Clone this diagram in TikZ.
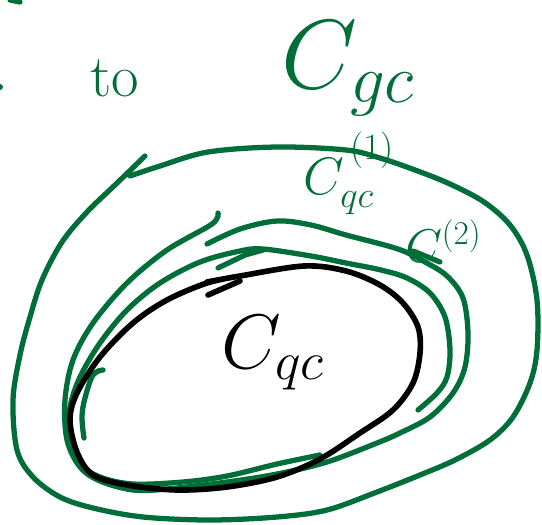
\RequirePackage{fix-cm}
\documentclass[tikz,border=0pt]{standalone}
\definecolor{ink}{RGB}{0,110,56}
\begin{document}
\begin{tikzpicture}[x=0.02cm,y=-0.02cm,
  gline/.style={draw=ink,line width=3pt,line cap=round,line join=round},
  bline/.style={draw=black,line width=3.2pt,line cap=round,line join=round},
  glabel/.style={text=ink,inner sep=0pt,anchor=base west},
  blabel/.style={text=black,inner sep=0pt,anchor=base west}]
\useasboundingbox (0,0) rectangle (542,525);
% stray marks at the edge
\draw[gline] (10,0) -- (20,2);
\fill[ink] (0,87) circle (3);
% outer loop
\draw[gline] plot[smooth,tension=0.55] coordinates {
 (145,156) (115,185) (87,212) (62,242) (42,280) (30,317) (20,355) (13,400)
 (17,450) (33,477) (60,497) (93,508) (143,517) (210,520) (277,517) (327,510)
 (377,492) (420,475) (455,460) (490,440) (513,417) (530,383) (537,350)
 (537,300) (527,255) (510,225) (484,202) (450,184) (415,170) (380,158)
 (346,150) (277,147) (208,152) (160,166) (130,176)};
% middle loop
\draw[gline] plot[smooth,tension=0.55] coordinates {
 (207,244) (240,229) (277,221) (311,225) (346,235) (398,249) (425,262)
 (447,276) (463,298) (468,333) (465,367) (453,393) (430,417) (400,433)
 (377,443) (327,462) (277,474) (227,482) (167,489) (133,490) (100,481)
 (80,467) (67,440) (65,400) (73,360) (93,323) (127,283) (167,250) (212,224) (218,213)};
\draw[gline] (413,251) -- (440,262);
% inner green loop
\draw[gline] plot[smooth,tension=0.55] coordinates {
 (320,455) (277,464) (227,476) (183,482) (133,484) (100,477) (80,463)
 (70,433) (70,407) (80,377) (100,343) (127,310) (160,283) (200,262)
 (240,251) (263,249) (311,256) (346,263) (381,270) (407,278) (430,293)
 (445,317) (450,350) (447,377) (437,393) (418,410)};
\draw[gline] (218,268) -- (245,255) -- (263,250);
\draw[gline] plot[smooth,tension=0.6] coordinates {
 (103,370) (93,375) (85,398) (82,417) (84,438)};
% black ellipse
\draw[bline] plot[smooth,tension=0.55] coordinates {
 (207,282) (240,276) (304,266) (346,271) (380,285) (403,303) (418,327)
 (420,353) (413,383) (393,410) (360,433) (320,459) (277,477) (227,487)
 (177,490) (127,485) (93,475) (77,452) (70,420) (77,393) (100,357)
 (133,323) (167,300) (207,283) (240,276)};
\draw[bline] (208,295) -- (240,281);
% labels
\node[glabel,font=\fontsize{34}{34}\selectfont] (to) at (90,96) {to};
\node[glabel,font=\fontsize{56}{56}\selectfont] (cgc) at (281,88) {$C_{gc}$};
\node[glabel,font=\fontsize{30}{30}\selectfont] (cqc1) at (303,194) {$C^{\,\raisebox{9pt}{$\scriptstyle(1)$}}_{qc}$};
\node[glabel,font=\fontsize{27}{27}\selectfont] (c2) at (405,262) {$C^{(2)}$};
\node[blabel,font=\fontsize{44}{44}\selectfont] (cqc) at (221,368) {$C_{qc}$};
\end{tikzpicture}
\end{document}
